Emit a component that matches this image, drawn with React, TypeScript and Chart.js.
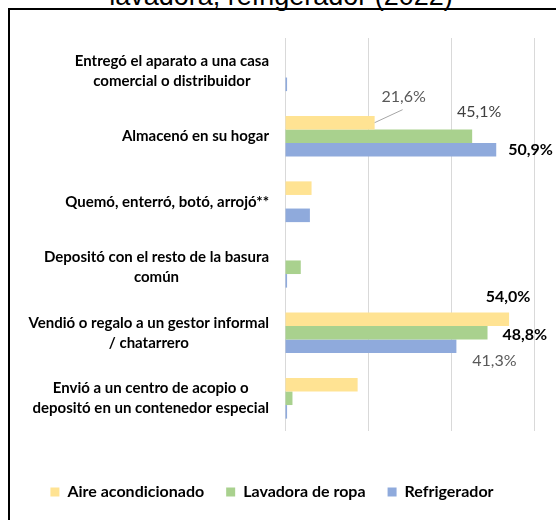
import React, { useEffect, useRef } from "react";
import { Chart, registerables } from "chart.js";

Chart.register(...registerables);

// ---------- data ----------
const titleText = "lavadora, refrigerador (2022)";

const categories: (string | string[])[] = [
  ["Entregó el aparato a una casa", "comercial o distribuidor"],
  "Almacenó en su hogar",
  "Quemó, enterró, botó, arrojó**",
  ["Depositó con el resto de la basura", "común"],
  ["Vendió o regalo a un gestor informal", "/ chatarrero"],
  ["Envió a un centro de acopio o", "depositó en un contenedor especial"],
];

const seriesNames = ["Aire acondicionado", "Lavadora de ropa", "Refrigerador"];

const aireValues = [0, 21.6, 6.4, 0, 54.0, 17.5];
const lavadoraValues = [0, 45.1, 0, 3.8, 48.8, 1.8];
const refrigeradorValues = [0.5, 50.9, 6.0, 0.5, 41.3, 0.5];

const xTicks = [0, 20, 40, 60];

// ---------- styling ----------
const FONT = "Lato, 'Open Sans', sans-serif";
const seriesColors = ["#FFE393", "#A9D18E", "#8FAADC"];

// which bars carry a value label, and how it is placed (style only)
const labelSpecs = [
  { ds: 0, i: 1, dx: 29, dy: -26, align: "center", color: "#595959", bold: false, leader: { x: 28, y: -13 } },
  { ds: 1, i: 1, dx: 7, dy: -24, align: "center", color: "#404040", bold: false },
  { ds: 2, i: 1, dx: 12, dy: 0, align: "left", color: "#000000", bold: true },
  { ds: 0, i: 4, dx: -1, dy: -22, align: "center", color: "#000000", bold: true },
  { ds: 1, i: 4, dx: 15, dy: 2, align: "left", color: "#000000", bold: true },
  { ds: 2, i: 4, dx: 38, dy: 15, align: "center", color: "#595959", bold: false },
];

const fmt = (v: number) => v.toFixed(1).replace(".", ",") + "%";

const categoryLabelPlugin = {
  id: "categoryLabels",
  afterDraw(chart: any) {
    const ctx = chart.ctx;
    const yScale = chart.scales.y;
    ctx.save();
    ctx.font = `bold 15px ${FONT}`;
    ctx.fillStyle = "#000000";
    ctx.textBaseline = "middle";
    ctx.textAlign = "center";
    const right = chart.chartArea.left - 16;
    const lh = 20;
    categories.forEach((lab, i) => {
      const lines = Array.isArray(lab) ? lab : [lab];
      const maxW = Math.max(...lines.map((l) => ctx.measureText(l).width));
      const cx = right - maxW / 2;
      const cy = yScale.getPixelForValue(i);
      lines.forEach((l, j) => {
        ctx.fillText(l, cx, cy + (j - (lines.length - 1) / 2) * lh);
      });
    });
    ctx.restore();
  },
};

const valueLabelPlugin = {
  id: "valueLabels",
  afterDatasetsDraw(chart: any) {
    const ctx = chart.ctx;
    ctx.save();
    labelSpecs.forEach((s) => {
      const el = chart.getDatasetMeta(s.ds).data[s.i];
      const v = chart.data.datasets[s.ds].data[s.i];
      if (!el) return;
      const x0 = el.x;
      const y0 = el.y;
      if (s.leader) {
        ctx.strokeStyle = "#A6A6A6";
        ctx.lineWidth = 1;
        ctx.beginPath();
        ctx.moveTo(x0 + s.leader.x, y0 + s.leader.y);
        ctx.lineTo(x0, y0);
        ctx.stroke();
      }
      ctx.font = `${s.bold ? "bold " : ""}16px ${FONT}`;
      ctx.fillStyle = s.color;
      ctx.textAlign = s.align as CanvasTextAlign;
      ctx.textBaseline = "middle";
      ctx.fillText(fmt(v), x0 + s.dx, y0 + s.dy);
    });
    ctx.restore();
  },
};

export default function App() {
  const canvasRef = useRef<HTMLCanvasElement | null>(null);

  useEffect(() => {
    if (!canvasRef.current) return;
    const chart = new Chart(canvasRef.current, {
      type: "bar",
      data: {
        labels: categories.map((c) => (Array.isArray(c) ? c.join(" ") : c)),
        datasets: [
          { label: seriesNames[0], data: aireValues, backgroundColor: seriesColors[0] },
          { label: seriesNames[1], data: lavadoraValues, backgroundColor: seriesColors[1] },
          { label: seriesNames[2], data: refrigeradorValues, backgroundColor: seriesColors[2] },
        ],
      },
      options: {
        indexAxis: "y",
        responsive: false,
        maintainAspectRatio: false,
        animation: false,
        datasets: {
          bar: { barPercentage: 1, categoryPercentage: 0.622, borderWidth: 0 },
        },
        layout: { padding: { top: 28, right: 22, bottom: 10, left: 0 } },
        scales: {
          x: {
            type: "linear",
            min: xTicks[0],
            max: xTicks[xTicks.length - 1],
            afterBuildTicks: (s: any) => {
              s.ticks = xTicks.map((v) => ({ value: v }));
            },
            afterFit: (s: any) => {
              s.height = 31;
            },
            ticks: { display: false },
            grid: { color: "#D9D9D9", lineWidth: 1, drawTicks: false },
            border: { display: false },
          },
          y: {
            type: "category",
            ticks: { display: false },
            grid: { display: false, drawTicks: false },
            border: { display: false },
            afterFit: (s: any) => {
              s.width = 275;
            },
          },
        },
        plugins: {
          legend: {
            position: "bottom",
            labels: {
              boxWidth: 9,
              boxHeight: 9,
              padding: 22,
              color: "#000000",
              font: { family: FONT, size: 16, weight: "bold" },
            },
          },
          tooltip: { enabled: false },
        },
      },
      plugins: [categoryLabelPlugin, valueLabelPlugin],
    } as any);
    return () => chart.destroy();
  }, []);

  return (
    <div
      style={{
        position: "fixed",
        left: 0,
        top: 0,
        width: 556,
        height: 520,
        overflow: "hidden",
        background: "#ffffff",
      }}
    >
      <div
        style={{
          position: "absolute",
          left: 3,
          top: -17,
          width: 556,
          textAlign: "center",
          fontFamily: "'Liberation Sans', Arial, sans-serif",
          fontSize: 27,
          lineHeight: "27px",
          color: "#000000",
          whiteSpace: "nowrap",
        }}
      >
        {titleText}
      </div>
      <div
        style={{
          position: "absolute",
          left: 8,
          top: 8,
          width: 548,
          height: 512,
          borderLeft: "2px solid #000000",
          borderTop: "2px solid #000000",
          boxSizing: "border-box",
        }}
      />
      <canvas
        ref={canvasRef}
        width={546}
        height={510}
        style={{ position: "absolute", left: 10, top: 10, width: 546, height: 510 }}
      />
    </div>
  );
}
